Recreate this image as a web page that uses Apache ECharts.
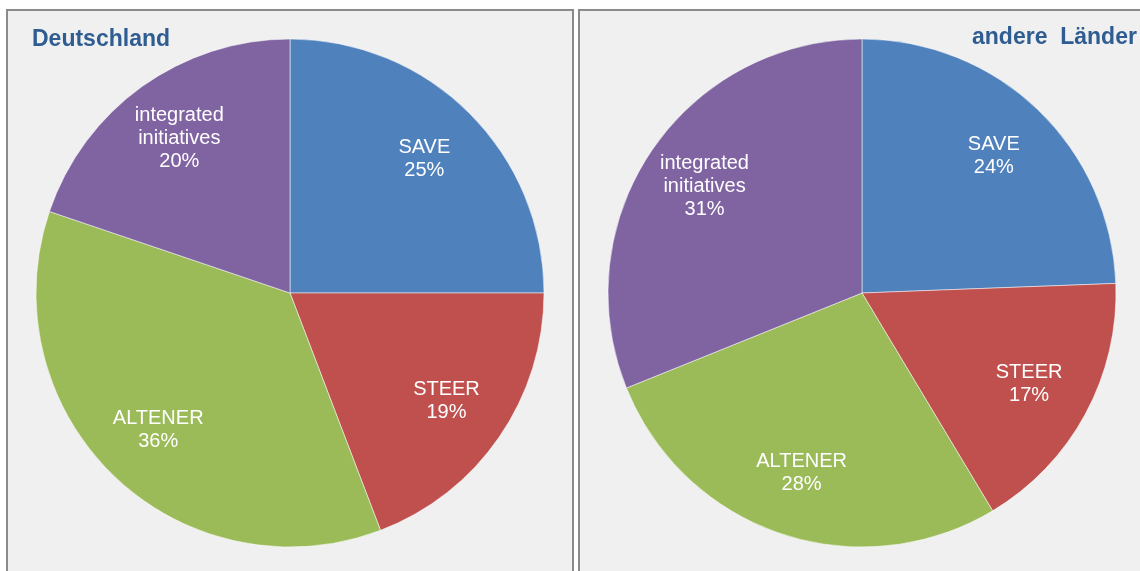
<!DOCTYPE html>
<html>
<head>
<meta charset="utf-8">
<script src="https://cdn.jsdelivr.net/npm/echarts@6/dist/echarts.min.js"></script>
<style>
html, body { margin: 0; padding: 0; background: #ffffff; }
#main { width: 1140px; height: 571px; }
</style>
</head>
<body>
<div id="main"></div>
<script>
var categories = ['SAVE', 'STEER', 'ALTENER', 'integrated\ninitiatives'];
var deutschlandValues = [25, 19.2, 36, 19.8];
var andereValues = [24.4, 17, 27.5, 31.1];
var panelTitles = ['Deutschland', 'andere  Länder'];
var sliceColors = ['#4f81bd', '#c0504d', '#9bbb59', '#8064a2'];

function buildData(values) {
	var arr = [];
	for (var i = 0; i < values.length; i++) {
		arr.push({ name: categories[i], value: values[i] });
	}
	return arr;
}

// sichtbarer Kreis
function mainPie(values, cx) {
	return {
		type: 'pie',
		silent: true,
		startAngle: 90,
		radius: [0, 254],
		center: [cx, 293],
		color: sliceColors,
		itemStyle: {
			borderColor: 'rgba(255,255,255,0.5)',
			borderWidth: 1
		},
		label: { show: false },
		labelLine: { show: false },
		data: buildData(values)
	};
}

// unsichtbarer Ring nur fuer die Beschriftung (weiter aussen wie in Excel)
function labelPie(values, cx) {
	return {
		type: 'pie',
		silent: true,
		startAngle: 90,
		radius: [120, 254],
		center: [cx, 293],
		percentPrecision: 0,
		itemStyle: {
			color: 'rgba(0,0,0,0)',
			borderWidth: 0
		},
		label: {
			show: true,
			position: 'inside',
			color: '#ffffff',
			fontFamily: 'Liberation Sans, Arial, sans-serif',
			fontSize: 20,
			lineHeight: 23,
			formatter: '{b}\n{d}%'
		},
		labelLine: { show: false },
		emphasis: { disabled: true },
		data: buildData(values)
	};
}

var option = {
	animation: false,
	graphic: [
		{
			type: 'rect',
			shape: { x: 7, y: 10, width: 566, height: 600 },
			style: { fill: '#f0f0f0', stroke: '#8a8a8a', lineWidth: 2 },
			z: -10
		},
		{
			type: 'rect',
			shape: { x: 579, y: 10, width: 600, height: 600 },
			style: { fill: '#f0f0f0', stroke: '#8a8a8a', lineWidth: 2 },
			z: -10
		}
	],
	title: [
		{
			text: panelTitles[0],
			left: 27,
			top: 23,
			textStyle: { color: '#2f5c91', fontSize: 23, fontWeight: 'bold', fontFamily: 'Liberation Sans, Arial, sans-serif' }
		},
		{
			text: panelTitles[1],
			left: 967,
			top: 21,
			textStyle: { color: '#2f5c91', fontSize: 23, fontWeight: 'bold', fontFamily: 'Liberation Sans, Arial, sans-serif' }
		}
	],
	series: [
		mainPie(deutschlandValues, 290),
		labelPie(deutschlandValues, 290),
		mainPie(andereValues, 862),
		labelPie(andereValues, 862)
	]
};

var myChart = echarts.init(document.getElementById('main'));
myChart.setOption(option);
</script>
</body>
</html>
